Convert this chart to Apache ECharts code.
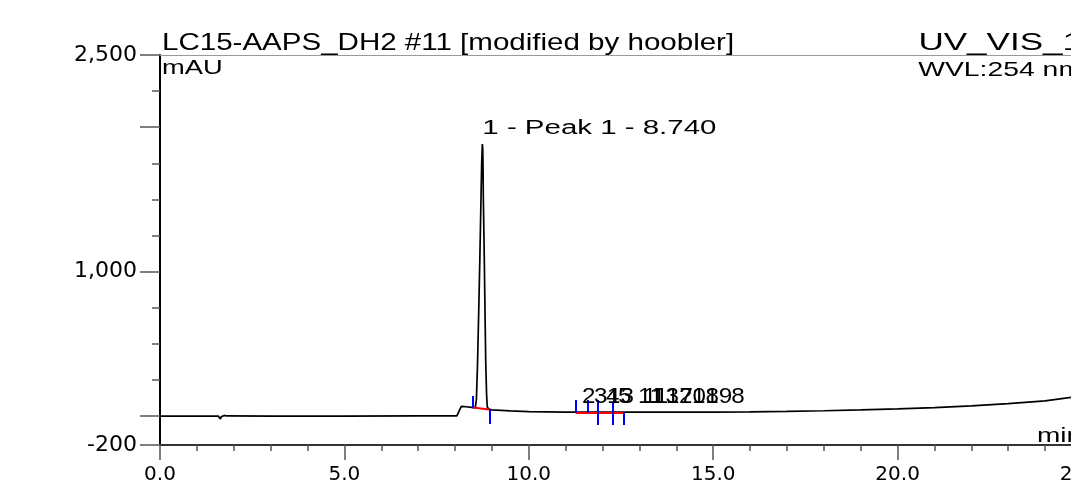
<!DOCTYPE html>
<html><head><meta charset="utf-8">
<script src="https://cdn.jsdelivr.net/npm/echarts@6/dist/echarts.min.js"></script>
<style>html,body{margin:0;padding:0;background:#fff}#c{width:1071px;height:483px}</style>
</head><body><div id="c"></div>
<script>
// ---- data ----
const timeMin = [0, 1.58, 1.62, 1.64, 1.66, 1.70, 1.74, 1.80, 3.0, 5.0, 7.0, 8.05, 8.10, 8.17, 8.30, 8.45, 8.55, 8.58, 8.61, 8.64, 8.67, 8.705, 8.722, 8.740, 8.750, 8.758, 8.767, 8.795, 8.815, 8.833, 8.855, 8.875, 8.92, 9.0, 9.5, 10.0, 11.0, 12.0, 13.0, 14.0, 15.0, 16.0, 17.0, 18.0, 19.0, 20.0, 21.0, 22.0, 23.0, 24.0, 25.0];
const signalMAU = [0, 0, -2, -20, -5, 8, 5, 1, 0, 0.5, 1, 2, 10, 68, 65, 61, 59, 120, 365, 700, 1058, 1519, 1752, 1884, 1860, 1752, 1519, 1058, 680, 365, 150, 62, 48, 43, 36, 31, 28, 27, 27, 27, 28, 30, 33, 37, 43, 50, 59, 71, 86, 106, 140];

const xTickValues = [0, 5, 10, 15, 20, 25];
const xTickLabels = ['0.0', '5.0', '10.0', '15.0', '20.0', '25.0'];
const yLabelValues = [-200, 1000, 2500];
const yTickLabels = ['-200', '1,000', '2,500'];
const yMajorTicks = [-200, 0, 1000, 2000, 2500];
const yMinorTicks = [250, 500, 750, 1250, 1500, 1750, 2250];

// integration baselines (red)
const baselineStartT = [8.49, 11.27];
const baselineStartV = [60, 24];
const baselineEndT = [8.92, 12.57];
const baselineEndV = [46, 24];
// peak delimiters (blue): time, from, to
const delimT = [8.49, 8.93, 11.27, 11.60, 11.86, 12.27, 12.57];
const delimFrom = [55, 45, 24, 24, 112, 93, 24];
const delimTo = [140, -55, 112, 112, -62, -62, -62];

// peak labels
const peakLabelTexts = ['1 - Peak 1 - 8.740'];
const peakLabelTimes = [8.74];
const peakLabelValues = [1884];
const clusterLabelTexts = ['2', '3', '4', '13', '5', '11', '11', '13', '17', '20', '18', '19', '8'];
const clusterLabelTimes = [11.443, 11.768, 12.093, 12.120, 12.419, 12.961, 13.097, 13.341, 13.720, 14.073, 14.425, 14.783, 15.488];
const clusterLabelValues = [136, 136, 136, 136, 136, 136, 136, 136, 136, 136, 136, 136, 136];

const titleText = 'LC15-AAPS_DH2 #11 [modified by hoobler]';
const channelText = 'UV_VIS_1';
const wavelengthText = 'WVL:254 nm';
const yUnitText = 'mAU';
const xUnitText = 'min';

// ---- chart ----
const chart = echarts.init(document.getElementById('c'), null, {renderer: 'canvas'});
const axisFont = 'DejaVu Sans';
const textFont = 'Liberation Sans';

const option = {
  animation: false,
  backgroundColor: '#ffffff',
  grid: {left: 160, right: -11, top: 55, bottom: 38, containLabel: false, outerBoundsMode: 'none'},
  xAxis: [{
    type: 'value', min: 0, max: 25, interval: 5, position: 'bottom',
    axisLine: {onZero: false, lineStyle: {color: '#333', width: 2}},
    axisTick: {length: 15, lineStyle: {color: '#555', width: 1.5}},
    minorTick: {show: true, splitNumber: 5, length: 6, lineStyle: {color: '#555', width: 1.5}},
    splitLine: {show: false},
    axisLabel: {margin: 20, color: '#000', fontFamily: axisFont, fontSize: 20, hideOverlap: false,
      formatter: v => { const i = xTickValues.indexOf(v); return i >= 0 ? xTickLabels[i] : ''; }}
  }, {
    type: 'value', min: 0, max: 25, position: 'top',
    axisLine: {onZero: false, lineStyle: {color: '#999', width: 1}},
    axisTick: {show: false}, axisLabel: {show: false}, splitLine: {show: false}
  }],
  yAxis: [{
    type: 'value', min: -200, max: 2500, position: 'left',
    axisLine: {show: true, onZero: false, lineStyle: {color: '#000', width: 2}},
    axisTick: {show: true, customValues: yMajorTicks, length: 20, lineStyle: {color: '#555', width: 1.5}},
    axisLabel: {customValues: yLabelValues, margin: 23, color: '#000', fontFamily: axisFont, fontSize: 22,
      formatter: v => { const i = yLabelValues.indexOf(v); return i >= 0 ? yTickLabels[i] : ''; }},
    splitLine: {show: false}
  }, {
    type: 'value', min: -200, max: 2500, position: 'left',
    axisLine: {show: false, onZero: false},
    axisTick: {show: true, customValues: yMinorTicks, length: 8, lineStyle: {color: '#555', width: 1.5}},
    axisLabel: {show: false}, splitLine: {show: false}
  }],
  series: [{
    type: 'line', name: 'UV_VIS_1', xAxisIndex: 0, yAxisIndex: 0,
    data: timeMin.map((t, i) => [t, signalMAU[i]]),
    showSymbol: false, symbol: 'none',
    lineStyle: {color: '#000', width: 1.7}, z: 2
  }, {
    type: 'lines', coordinateSystem: 'cartesian2d', xAxisIndex: 0, yAxisIndex: 0,
    data: baselineStartT.map((t, i) => ({coords: [[t, baselineStartV[i]], [baselineEndT[i], baselineEndV[i]]]})),
    lineStyle: {color: '#ff0000', width: 2, opacity: 1}, z: 3
  }, {
    type: 'lines', coordinateSystem: 'cartesian2d', xAxisIndex: 0, yAxisIndex: 0,
    data: delimT.map((t, i) => ({coords: [[t, delimFrom[i]], [t, delimTo[i]]]})),
    lineStyle: {color: '#0000ff', width: 2, opacity: 1}, z: 4
  }]
};
chart.setOption(option);

const px = (t, v) => chart.convertToPixel({xAxisIndex: 0, yAxisIndex: 0}, [t, v]);
const origin = px(0, 2500);
const endTop = px(25, 2500);
const endBottom = px(25, -200);

function txt(text, x, y, size, scaleX, align) {
  return {type: 'text', x: x, y: y, scaleX: scaleX, z: 10, silent: true,
    style: {text: text, fontFamily: textFont, fontSize: size, fill: '#000',
      align: align, textAlign: align, verticalAlign: 'middle', textVerticalAlign: 'middle'}};
}
const g = [];
g.push(txt(titleText, origin[0] + 2, origin[1] - 11.5, 24, 1.23, 'left'));
g.push(txt(channelText, endTop[0], endTop[1] - 11.5, 24, 1.46, 'right'));
g.push(txt(yUnitText, origin[0] + 2, origin[1] + 14, 19.5, 1.40, 'left'));
g.push(txt(wavelengthText, endTop[0], endTop[1] + 15.5, 21, 1.35, 'right'));
g.push(txt(xUnitText, endBottom[0], endBottom[1] - 9, 20, 1.40, 'right'));
peakLabelTexts.forEach((s, i) => {
  const p = px(peakLabelTimes[i], peakLabelValues[i]);
  g.push(txt(s, p[0], p[1] - 15, 19.5, 1.51, 'left'));
});
clusterLabelTexts.forEach((s, i) => {
  const p = px(clusterLabelTimes[i], clusterLabelValues[i]);
  g.push(txt(s, p[0], p[1], 22, 1.1, 'left'));
});
chart.setOption({graphic: g});
</script>
</body></html>
